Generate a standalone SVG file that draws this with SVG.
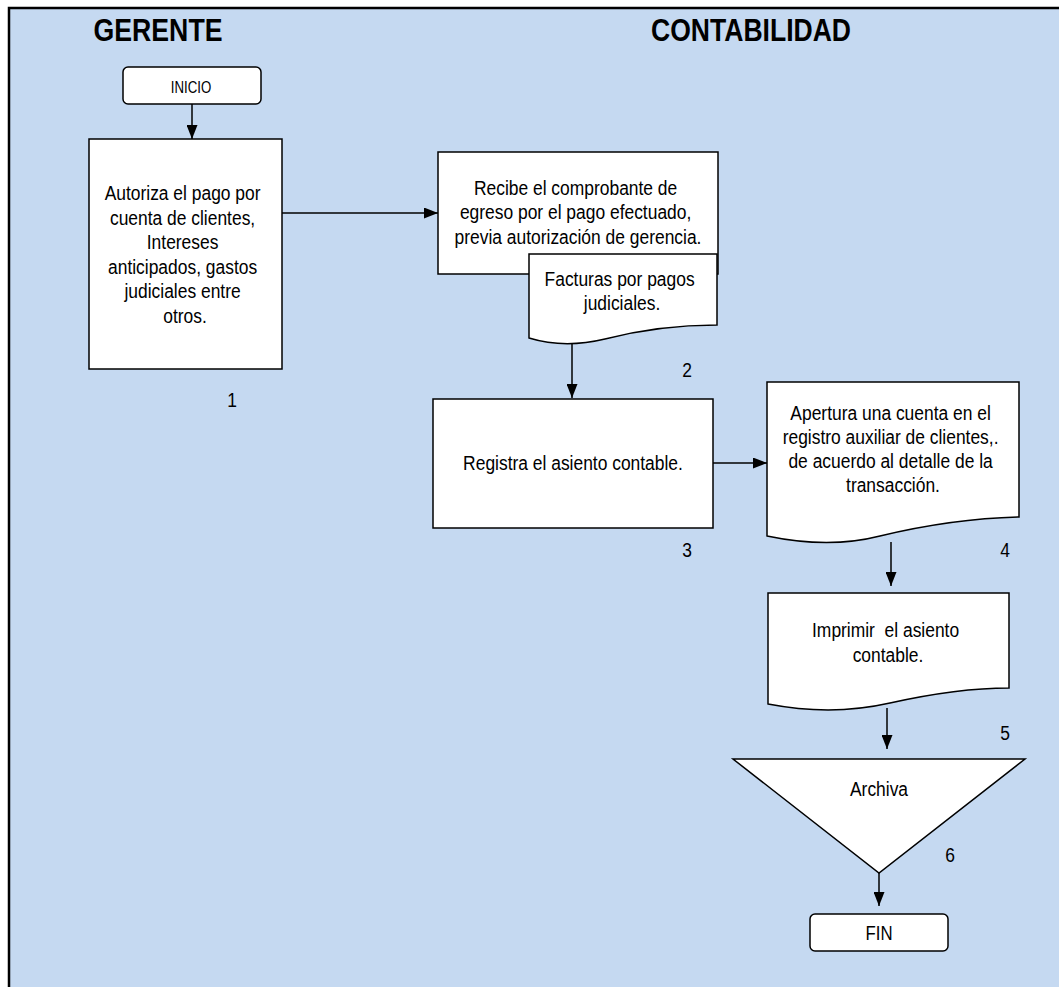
<svg xmlns="http://www.w3.org/2000/svg" width="1059" height="987" viewBox="0 0 1059 987">
<defs>
<style>
.shape{fill:#fff;stroke:#000;stroke-width:1.5}
.t{font-family:"Liberation Sans",Arial,sans-serif;font-size:21px;fill:#000;text-anchor:middle}
.title{font-family:"Liberation Sans",Arial,sans-serif;font-size:31px;font-weight:bold;fill:#000;text-anchor:middle}
.conn{stroke:#000;stroke-width:1.5;fill:none;marker-end:url(#ah)}
</style>
<marker id="ah" viewBox="0 0 14 11" refX="14" refY="5.5" markerWidth="14" markerHeight="11" markerUnits="userSpaceOnUse" orient="auto">
<path d="M0,0 L14,5.5 L0,11 Z" fill="#000"/>
</marker>
</defs>
<rect x="0" y="0" width="1059" height="987" fill="#fff"/>
<rect x="9" y="8" width="1065" height="995" fill="#C5D9F1" stroke="#000" stroke-width="2.5"/>
<text class="title" x="158" y="41" textLength="129" lengthAdjust="spacingAndGlyphs">GERENTE</text>
<text class="title" x="751" y="41" textLength="200" lengthAdjust="spacingAndGlyphs">CONTABILIDAD</text>

<g id="connectors">
<line class="conn" x1="192" y1="104" x2="192" y2="139"/>
<line class="conn" x1="282" y1="213" x2="438" y2="213"/>
<line class="conn" x1="572" y1="344" x2="572" y2="398"/>
<line class="conn" x1="713" y1="463" x2="767" y2="463"/>
<line class="conn" x1="891" y1="542" x2="891" y2="586"/>
<line class="conn" x1="887" y1="708" x2="887" y2="749"/>
<line class="conn" x1="879" y1="873" x2="879" y2="906"/>
</g>

<g id="inicio">
<rect class="shape" x="123" y="67" width="138" height="37" rx="5"/>
<text class="t" transform="translate(191,93) scale(0.78,1)" style="font-size:17px">INICIO</text>
</g>

<g id="n1">
<rect class="shape" x="89" y="139" width="193" height="230"/>
<text class="t" transform="translate(185,200) scale(0.83,1)">
<tspan x="0" y="0">Autoriza el pago por</tspan>
<tspan x="0" y="24.6">cuenta de clientes,</tspan>
<tspan x="0" y="49.2">Intereses</tspan>
<tspan x="0" y="73.8">anticipados, gastos</tspan>
<tspan x="0" y="98.4">judiciales entre</tspan>
<tspan x="0" y="123">otros.</tspan>
</text>
<text class="t" transform="translate(232,407) scale(0.83,1)">1</text>
</g>

<g id="n2">
<rect class="shape" x="438" y="152" width="280" height="122"/>
<text class="t" transform="translate(578,195) scale(0.83,1)">
<tspan x="0" y="0">Recibe el comprobante de</tspan>
<tspan x="0" y="24.5">egreso por el pago efectuado,</tspan>
<tspan x="0" y="49">previa autorización de gerencia.</tspan>
</text>
</g>

<g id="n2doc">
<path class="shape" d="M529,254 H717 V325 C680,325 640,330 605,339 C580,345 555,346 529,338 Z"/>
<text class="t" transform="translate(622,286) scale(0.83,1)">
<tspan x="0" y="0">Facturas por pagos</tspan>
<tspan x="0" y="24">judiciales.</tspan>
</text>
<text class="t" transform="translate(687,377) scale(0.83,1)">2</text>
</g>

<g id="n3">
<rect class="shape" x="433" y="399" width="280" height="129"/>
<text class="t" transform="translate(573,470) scale(0.83,1)">Registra el asiento contable.</text>
<text class="t" transform="translate(687,557) scale(0.83,1)">3</text>
</g>

<g id="n4">
<path class="shape" d="M767,382 H1019 V517 C975,518 930,524 880,536 C845,545 810,545 767,536 Z"/>
<text class="t" transform="translate(893,420) scale(0.83,1)">
<tspan x="0" y="0">Apertura una cuenta en el</tspan>
<tspan x="0" y="24">registro auxiliar de clientes,.</tspan>
<tspan x="0" y="48">de acuerdo al detalle de la</tspan>
<tspan x="0" y="72">transacción.</tspan>
</text>
<text class="t" transform="translate(1005,557) scale(0.83,1)">4</text>
</g>

<g id="n5">
<path class="shape" d="M768,593 H1009 V688 C970,688 935,693 890,703 C855,711 815,713 768,704 Z"/>
<text class="t" transform="translate(888,637) scale(0.83,1)">
<tspan x="0" y="0">Imprimir&#160; el asiento</tspan>
<tspan x="0" y="25">contable.</tspan>
</text>
<text class="t" transform="translate(1005,740) scale(0.83,1)">5</text>
</g>

<g id="n6">
<path class="shape" d="M733,759 H1025 L879,873 Z"/>
<text class="t" transform="translate(879,796) scale(0.83,1)">Archiva</text>
<text class="t" transform="translate(950,862) scale(0.83,1)">6</text>
</g>

<g id="fin">
<rect class="shape" x="810" y="914" width="138" height="37" rx="5"/>
<text class="t" transform="translate(879,940) scale(0.8,1)">FIN</text>
</g>
</svg>
